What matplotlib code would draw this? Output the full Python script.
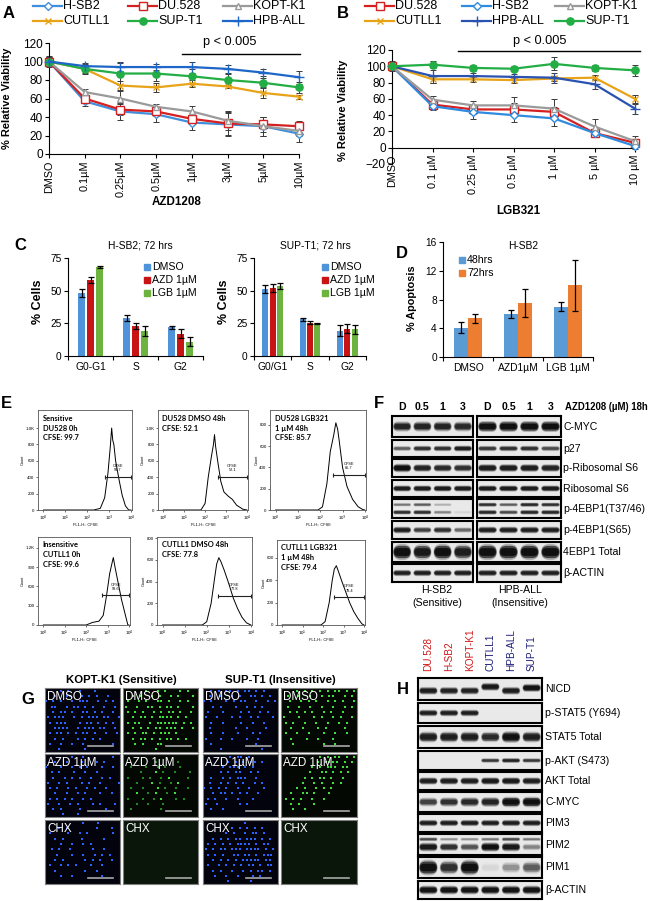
import numpy as np
import matplotlib
matplotlib.use('Agg')
import matplotlib.pyplot as plt
from matplotlib.patches import FancyBboxPatch
from matplotlib.ticker import NullLocator

plt.rcParams['font.family'] = ['Liberation Sans', 'DejaVu Sans']
plt.rcParams['axes.linewidth'] = 0.8

W, H = 650, 901

# ── A: AZD1208 viability (% of DMSO) ──────────────────────────────
A_DOSES = ['DMSO', '0.1µM', '0.25µM', '0.5µM', '1µM', '3µM', '5µM', '10µM']
A_HSB2 = [100, 57, 46, 43, 34, 32, 30, 22]
A_HSB2_ERR = [6, 5, 9, 8, 8, 12, 10, 9]
A_DU528 = [100, 60, 48, 46, 38, 33, 32, 30]
A_DU528_ERR = [5, 4, 6, 5, 6, 12, 8, 6]
A_KOPTK1 = [100, 67, 60, 51, 46, 36, 30, 25]
A_KOPTK1_ERR = [5, 3, 8, 3, 6, 10, 10, 6]
A_CUTLL1 = [100, 92, 74, 72, 76, 73, 66, 62]
A_CUTLL1_ERR = [4, 4, 5, 5, 4, 2, 5, 2]
A_SUPT1 = [100, 92, 87, 87, 84, 80, 77, 72]
A_SUPT1_ERR = [5, 5, 12, 8, 8, 7, 5, 6]
A_HPBALL = [100, 95, 94, 94, 94, 92, 88, 83]
A_HPBALL_ERR = [4, 3, 4, 3, 6, 4, 4, 7]

# ── B: LGB321 viability ───────────────────────────────────────────
B_DOSES = ['DMSO', '0.1 µM', '0.25 µM', '0.5 µM', '1 µM', '5 µM', '10 µM']
B_DU528 = [100, 53, 47, 47, 44, 18, 6]
B_DU528_ERR = [5, 4, 5, 8, 6, 5, 4]
B_HSB2 = [100, 51, 44, 40, 36, 18, 2]
B_HSB2_ERR = [4, 5, 9, 9, 9, 4, 3]
B_KOPTK1 = [100, 59, 52, 52, 48, 26, 8]
B_KOPTK1_ERR = [6, 4, 5, 10, 12, 9, 6]
B_CUTLL1 = [100, 84, 84, 83, 85, 86, 60]
B_CUTLL1_ERR = [3, 4, 3, 3, 3, 3, 5]
B_HPBALL = [100, 88, 88, 87, 86, 78, 48]
B_HPBALL_ERR = [3, 8, 4, 4, 6, 6, 6]
B_SUPT1 = [100, 102, 98, 97, 103, 98, 95]
B_SUPT1_ERR = [4, 4, 4, 3, 8, 4, 7]

# ── C: cell cycle ─────────────────────────────────────────────────
C_TREAT = ['DMSO', 'AZD 1µM', 'LGB 1µM']
C_HSB2_PHASES = ['G0-G1', 'S', 'G2']
C_HSB2 = [[48, 29, 22], [58, 23, 17], [68, 19, 11]]
C_HSB2_ERR = [[3, 2.5, 1], [2.5, 2.5, 3.5], [1, 4, 3.5]]
C_SUPT1_PHASES = ['G0/G1', 'S', 'G2']
C_SUPT1 = [[51, 28, 19.5], [52, 25.5, 21], [53.5, 25, 20.5]]
C_SUPT1_ERR = [[3, 1, 4], [3, 1, 3.5], [2.5, 0.5, 3.5]]

# ── D: apoptosis ──────────────────────────────────────────────────
D_TREAT = ['DMSO', 'AZD1µM', 'LGB 1µM']
D_TIMES = ['48hrs', '72hrs']
D_48 = [4.1, 6.0, 7.0]
D_48_ERR = [0.8, 0.6, 0.65]
D_72 = [5.4, 7.5, 10.0]
D_72_ERR = [0.65, 1.95, 3.55]

# ── E: CFSE histograms (log10 FL1-H, count) ───────────────────────
E1_LOG = [0, 2.3, 2.6, 2.8, 2.95, 3.05, 3.12, 3.17, 3.22, 3.3, 3.45, 3.6, 3.75, 3.9, 4]
E1_CNT = [0, 0, 20, 150, 450, 750, 1000, 850, 800, 600, 380, 180, 50, 0, 0]
E2_LOG = [0, 1.8, 2.0, 2.15, 2.3, 2.4, 2.45, 2.5, 2.6, 2.75, 2.9, 3.1, 3.3, 3.5, 3.8, 4]
E2_CNT = [0, 0, 80, 400, 650, 800, 920, 780, 600, 350, 220, 170, 130, 60, 10, 0]
E3_LOG = [0, 1.9, 2.1, 2.3, 2.45, 2.6, 2.7, 2.78, 2.85, 3.0, 3.2, 3.45, 3.7, 3.9, 4]
E3_CNT = [0, 0, 30, 250, 550, 700, 820, 760, 650, 400, 220, 100, 30, 5, 0]
E4_LOG = [0, 2.0, 2.3, 2.6, 2.8, 2.95, 3.1, 3.2, 3.27, 3.35, 3.5, 3.65, 3.8, 3.95, 4]
E4_CNT = [0, 0, 40, 60, 150, 450, 800, 950, 1050, 900, 650, 400, 200, 0, 0]
E5_LOG = [0, 1.8, 2.0, 2.2, 2.35, 2.45, 2.55, 2.65, 2.8, 3.0, 3.2, 3.4, 3.6, 3.8, 4]
E5_CNT = [0, 0, 30, 200, 420, 560, 620, 580, 500, 380, 250, 150, 70, 20, 0]
E6_LOG = [0, 1.9, 2.1, 2.3, 2.45, 2.55, 2.65, 2.75, 2.9, 3.1, 3.3, 3.5, 3.7, 3.9, 4]
E6_CNT = [0, 0, 30, 200, 400, 500, 530, 480, 400, 300, 200, 120, 60, 10, 0]
E_CFSE = ['99.7', '52.1', '85.7', '99.6', '77.8', '79.4']
E_NOTES = ['Sensitive\nDU528 0h\nCFSE: 99.7', 'DU528 DMSO 48h\nCFSE: 52.1',
           'DU528 LGB321\n1 µM 48h\nCFSE: 85.7', 'Insensitive\nCUTLL1 0h\nCFSE: 99.6',
           'CUTLL1 DMSO 48h\nCFSE: 77.8', 'CUTLL1 LGB321\n1 µM 48h\nCFSE: 79.4']

# ── F: western blot, lanes D/0.5/1/3 for H-SB2 then HPB-ALL ───────
F_LANES = ['D', '0.5', '1', '3']
F_CMYC = [0.8, 0.8, 0.8, 0.75, 1.0, 1.0, 1.0, 1.0]
F_P27 = [0.45, 0.7, 0.7, 0.85, 0.65, 0.7, 0.7, 0.55]
F_PRS6 = [1.0, 0.8, 0.75, 0.7, 0.85, 0.85, 0.85, 0.8]
F_RS6 = [0.85, 0.85, 0.85, 0.85, 0.85, 0.85, 0.85, 0.85]
F_P4EBP1_T_UP = [0.35, 0.45, 0.15, 0.0, 0.7, 0.45, 0.75, 0.7]
F_P4EBP1_T_LO = [0.7, 0.7, 0.3, 0.05, 0.75, 0.55, 0.75, 0.75]
F_P4EBP1_S65 = [0.85, 0.6, 0.7, 0.4, 0.85, 0.85, 0.85, 0.85]
F_4EBP1 = [1.0, 0.9, 1.0, 0.85, 1.0, 1.0, 1.0, 1.0]
F_ACTIN = [0.85, 0.85, 0.85, 0.85, 0.85, 0.85, 0.85, 0.85]

# ── H: western blot across six lines ──────────────────────────────
H_LINES = ['DU.528', 'H-SB2', 'KOPT-K1', 'CUTLL1', 'HPB-ALL', 'SUP-T1']
H_SENSITIVE = [True, True, True, False, False, False]
H_NICD = [0.85, 0.8, 0.8, 0.9, 0.85, 0.95]
H_NICD_Y = [0.42, 0.42, 0.42, 0.6, 0.42, 0.55]
H_PSTAT5 = [0.85, 0.85, 0.85, 0, 0, 0]
H_STAT5 = [0.85, 0.85, 0.85, 0.75, 1.0, 0.85]
H_PAKT = [0, 0, 0, 0.65, 0.8, 0.65]
H_AKT = [0.85, 0.85, 0.85, 0.9, 0.9, 0.85]
H_CMYC = [0.6, 0.7, 0.75, 0.8, 1.0, 1.0]
H_PIM3 = [0.85, 0.85, 0.85, 0.85, 0.85, 0.85]
H_PIM2_UP = [0.55, 0.25, 0.25, 0.35, 0.55, 0.35]
H_PIM2_LO = [0.9, 0.7, 0.5, 1.0, 0.9, 0.3]
H_PIM1 = [1.0, 0.7, 1.0, 0.04, 0.25, 0.45]
H_ACTIN = [0.95, 0.95, 0.95, 0.95, 0.95, 0.95]

# ── G: cell maps ('#' bright cell, '+' dim cell) ──────────────────
KOPT_DMSO_B = ["....#.#..#...#......", "..#..##..#.#.#..#...", "#.#.#..#.###..#.#.#.",
               ".##..#.##.#.#..#..#.", "..#.##.#..##.#.#..#.", "#.###..#.#.###.##..#",
               ".#.###...#.##.#.#.#.", "..####..#.###.##..#.", ".#.##.#.#.##.#..#..#",
               "..#.#...#.#.#.#.....", ".#..#..#..#.......#.", "...#......#........."]
KOPT_DMSO_G = ["......#..#.#...#.#..", "..#.#..#.#..#.#...#.", ".#..#.#..##.#..#.#..",
               "#..#..##.#.##.#...#.", ".#.#.#..#.#.##.#..#.", "..#.##.#.####.#.#...",
               ".#.##..#.######.#.#.", "..#.#.#.##.###.#..#.", ".#.#.##.#.###.#.....",
               "..#.##.#.#.##.#.#...", "...#.#...##.........", "........#..........."]
KOPT_AZD_B = [".......#..#.......#.", "..#..#...#...#.#....", "#...#..#.#.#...#..#.",
              ".#.#...#..#..#......", "..#..#.#.#..#..#.#..", "#..#.#...#.#..#....#",
              ".#.#..#.#..#.#..#...", "..#..#..#.#...#..#..", ".#.#.#.#..#.#.......",
              "#..#..#.#...#.#...#.", "..#.#....#......#...", "....#...#..........."]
KOPT_AZD_G = ["....................", "........+.....+.....", "..+...+..+.+...+....",
              "....+...#.+..+...+..", ".+...+.+..+.#....+..", "...+...#.+..+.#.....",
              "..+..+...#.+..+..+..", "...#..+.#..+.#......", ".+...+..+.#...+.+...",
              "...+..+...+.........", "..+.......+.........", "...................."]
KOPT_CHX_B = ["..........#...#.....", "...#.#.......#...#..", ".#....#..#.#......#.",
              "..#.#....#.....#....", "....#..#..#.#.......", ".#.#..#.....#..#....",
              "...#...#..#..#.#.#..", "..#.#.....#.#.#..#..", ".#..#.#.#...#..#....",
              "..#.......#..#......", "....#..#.......#....", "...................."]
SUP_DMSO_B = ["..#.#.##.#.##.#.#...", ".#..#..#.#..##.#.#..", "#.#...#.#.##..#..#.#",
              "..#.#...#..#.#.#....", ".#...#....#.#..#.#..", "#..#...#.#..#.#...#.",
              "..#..#....#..#..#...", ".#......#..#....#...", "..#..#...#...#.#....",
              "#...#..#...#..#.....", "..#...........#.....", "....#..........#...."]
SUP_DMSO_G = ["....#.#.#.#.#.##.#.#", ".#..#..#..#.##..#.#.", "..#..#.#.#..#.#.#..#",
              ".#..#..#..#..#..#.#.", "..#.#.#.#..#.#..#...", "#...#...#.#..#.#..#.",
              ".#.#..#..#..#..#.#..", "..#..#...#.#....#...", ".#..#..#...#..#..#..",
              "..#...#..#...#......", "...#.......#..#.....", "...................."]
SUP_AZD_B = [".......#.##.#.......", "......#.#.#.##.#....", ".....#.###.#.#......",
             "....#.#.##..#.#.....", "..#..#.#.###..#.....", ".#..#.#.#.#..#.#....",
             "#.#.#.#..#..#...#...", "..#.##.#.#.#..#.....", ".#.#..#..#...#......",
             "#..#.....#.#........", "..#..#..............", "...................."]
SUP_AZD_G = ["..........#.#.##.#.#", ".........#.####.#.#.", "........#.#.###.##..",
             ".......#..##.#.#.#..", "......#.#.##.#..#...", ".....#..#.#..#.#....",
             "....#.#..#.#.#......", "..#..##.#...#.......", ".#.#.#..#..#........",
             "..#.#...#...........", "...#..#.............", "...................."]
SUP_CHX_B = ["...........#........", ".......#.#.#.#.#....", "......#.#..#.##.#...",
             "..#.#.#.##.###.#.#..", ".#.#.#.#.####.#.##..", "#.#.##.###.####.#.#.",
             ".#.#.#..##.##.#.###.", "..#.#.#.#.#####.##..", ".#..#.#.#.#.##.#.##.",
             "..#.#..#..#.#.##.#..", "...#..#..#...#.#....", "......#.....#......."]
NO_CELLS = ["." * 20] * 12

MARKERS = {'H-SB2': ('D', 3.6, False), 'DU.528': ('s', 5.2, False), 'KOPT-K1': ('^', 5, False),
           'CUTLL1': ('x', 5, True), 'SUP-T1': ('o', 5.2, True), 'HPB-ALL': ('+', 6.5, True)}
COLORS = {'H-SB2': '#3F8FDC', 'DU.528': '#D42020', 'KOPT-K1': '#9A9A9A',
          'CUTLL1': '#E8A317', 'SUP-T1': '#22AD45', 'HPB-ALL': '#1E66C8'}
C_COLORS = ['#4F94DA', '#C81414', '#6DB33F']
D_COLORS = ['#5B9BD5', '#ED7D31']

fig = plt.figure(figsize=(6.5, 9.01), dpi=100)
canvas = fig.add_axes([0, 0, 1, 1], zorder=20)
canvas.set_xlim(0, W)
canvas.set_ylim(H, 0)
canvas.axis('off')
canvas.patch.set_alpha(0)


def px_axes(x0, y0, x1, y1):
    return fig.add_axes([x0 / W, 1 - y1 / H, (x1 - x0) / W, (y1 - y0) / H])


def label(x, y, s, **kw):
    kw.setdefault('ha', 'center')
    kw.setdefault('va', 'center')
    canvas.text(x, y, s, **kw)


def letter(x, y, s):
    label(x, y, s, fontsize=12, fontweight='bold')


# ════════════════════════════════════════════════════════════════
# A / B  viability curves
# ════════════════════════════════════════════════════════════════

def draw_series(ax, name, y, err, color):
    x = np.arange(len(y))
    mk, ms, filled = MARKERS[name]
    ax.errorbar(x, y, yerr=err, fmt='none', ecolor='#3a3a3a', elinewidth=0.7,
                capsize=2, capthick=0.7, clip_on=False, zorder=2)
    ax.plot(x, y, color=color, lw=1.6, marker=mk, ms=ms, mfc=color if filled else 'white',
            mec=color, mew=1, clip_on=False, zorder=3)


def legend_entry(x0, y, name, color):
    mk, ms, filled = MARKERS[name]
    canvas.plot([x0, x0 + 29], [y, y], color=color, lw=1.6)
    canvas.plot([x0 + 14.5], [y], marker=mk, ms=ms, color=color,
                mfc=color if filled else 'white', mec=color, mew=1)
    canvas.text(x0 + 30, y, name, fontsize=9, va='center')


def viability_axes(ax, doses, ymin):
    if ymin < 0:
        ax.spines['bottom'].set_position(('data', 0))
    ax.set_xlim(0, len(doses) - 1)
    ax.set_ylim(ymin, 120)
    ax.set_yticks(range(ymin, 121, 20))
    ax.set_xticks(range(len(doses)))
    ax.set_xticklabels(doses, rotation=90, fontsize=7.8)
    ax.tick_params(axis='y', labelsize=8.5, length=3, pad=1.5)
    ax.tick_params(axis='x', length=3, pad=2)
    for s in ['top', 'right']:
        ax.spines[s].set_visible(False)
    ax.patch.set_alpha(0)


axA = px_axes(49, 43, 299, 154)
viability_axes(axA, A_DOSES, 0)
for name, y, e in [('H-SB2', A_HSB2, A_HSB2_ERR), ('DU.528', A_DU528, A_DU528_ERR),
                   ('KOPT-K1', A_KOPTK1, A_KOPTK1_ERR), ('CUTLL1', A_CUTLL1, A_CUTLL1_ERR),
                   ('SUP-T1', A_SUPT1, A_SUPT1_ERR), ('HPB-ALL', A_HPBALL, A_HPBALL_ERR)]:
    draw_series(axA, name, y, e, COLORS[name])
axA.plot([3.72, 7.03], [108, 108], color='k', lw=1, clip_on=False)
axA.text(5.07, 121, 'p < 0.005', ha='center', va='center', fontsize=9.2)

for col, (n1, n2) in zip([33, 128, 223], [('H-SB2', 'CUTLL1'), ('DU.528', 'SUP-T1'),
                                          ('KOPT-K1', 'HPB-ALL')]):
    legend_entry(col, 6, n1, COLORS[n1])
    legend_entry(col, 21, n2, COLORS[n2])
letter(9, 13, 'A')
label(7, 98, '% Relative Viability', rotation=90, fontsize=8, fontweight='bold')
label(177, 202, 'AZD1208', fontsize=8.4, fontweight='bold')

axB = px_axes(392, 50, 635, 164)
viability_axes(axB, B_DOSES, -20)
B_COLORS = dict(COLORS, **{'HPB-ALL': '#2A52B0', 'H-SB2': '#2F8BE0'})
for name, y, e in [('DU.528', B_DU528, B_DU528_ERR), ('H-SB2', B_HSB2, B_HSB2_ERR),
                   ('KOPT-K1', B_KOPTK1, B_KOPTK1_ERR), ('CUTLL1', B_CUTLL1, B_CUTLL1_ERR),
                   ('HPB-ALL', B_HPBALL, B_HPBALL_ERR), ('SUP-T1', B_SUPT1, B_SUPT1_ERR)]:
    draw_series(axB, name, y, e, B_COLORS[name])
axB.plot([1.63, 6.12], [119, 119], color='k', lw=1, clip_on=False)
axB.text(3.65, 131, 'p < 0.005', ha='center', va='center', fontsize=9.2)
for col, (n1, n2) in zip([365, 462, 555], [('DU.528', 'CUTLL1'), ('H-SB2', 'HPB-ALL'),
                                           ('KOPT-K1', 'SUP-T1')]):
    legend_entry(col, 6, n1, B_COLORS[n1])
    legend_entry(col, 21, n2, B_COLORS[n2])
letter(343, 13, 'B')
label(343, 110, '% Relative Viability', rotation=90, fontsize=8, fontweight='bold')
label(518, 211, 'LGB321', fontsize=8.4, fontweight='bold')


# ════════════════════════════════════════════════════════════════
# C / D  bar charts
# ════════════════════════════════════════════════════════════════

def excel_bar_axes(ax, cats, ymax, yticks):
    n = len(cats)
    ax.set_xlim(0, n)
    ax.set_ylim(0, ymax)
    ax.set_yticks(yticks)
    ax.set_xticks(range(n + 1))
    ax.set_xticklabels([])
    ax.set_xticks(np.arange(n) + 0.5, minor=True)
    ax.set_xticklabels(cats, minor=True, fontsize=7.4)
    ax.tick_params(axis='x', which='major', length=3)
    ax.tick_params(axis='x', which='minor', length=0, pad=4)
    ax.tick_params(axis='y', labelsize=7.3, length=3, pad=1.5)
    for s in ['top', 'right']:
        ax.spines[s].set_visible(False)
    ax.patch.set_alpha(0)


def square_legend(x, ys, names, colors):
    for y, n, c in zip(ys, names, colors):
        canvas.plot([x], [y], marker='s', ms=4.2, color=c)
        canvas.text(x + 5, y, n, fontsize=7.6, va='center')


err_style = dict(ecolor='k', elinewidth=0.9, capsize=2, capthick=0.9)

for rect, phases, vals, errs, title, tx, lx in [
        ((68, 258, 203, 356), C_HSB2_PHASES, C_HSB2, C_HSB2_ERR, 'H-SB2; 72 hrs', 140, 147),
        ((254, 258, 366, 356), C_SUPT1_PHASES, C_SUPT1, C_SUPT1_ERR, 'SUP-T1; 72 hrs', 315, 325)]:
    ax = px_axes(*rect)
    excel_bar_axes(ax, phases, 75, [0, 25, 50, 75])
    x = np.arange(len(phases)) + 0.5
    for k, (v, e, c) in enumerate(zip(vals, errs, C_COLORS)):
        ax.bar(x + (k - 1) * 0.2, v, 0.16, color=c, yerr=e, error_kw=err_style, zorder=2)
    label(tx, 246, title, fontsize=7.4)
    square_legend(lx, [267, 280, 293], C_TREAT, C_COLORS)
    label(rect[0] - 30, 302, '% Cells', rotation=90, fontsize=9, fontweight='bold')
letter(20, 246, 'C')

axD = px_axes(443, 242, 593, 357)
excel_bar_axes(axD, D_TREAT, 16, [0, 4, 8, 12, 16])
xd = np.arange(len(D_TREAT)) + 0.5
axD.bar(xd - 0.14, D_48, 0.28, color=D_COLORS[0], yerr=D_48_ERR, error_kw=err_style, zorder=2)
axD.bar(xd + 0.14, D_72, 0.28, color=D_COLORS[1], yerr=D_72_ERR, error_kw=err_style, zorder=2)
label(523, 246, 'H-SB2', fontsize=7.4)
square_legend(462, [260, 273], D_TIMES, D_COLORS)
label(412, 298, '% Apoptosis', rotation=90, fontsize=7.8, fontweight='bold')
letter(402, 254, 'D')


# ════════════════════════════════════════════════════════════════
# E  CFSE histograms
# ════════════════════════════════════════════════════════════════

E_RECTS = [(38, 410, 132, 510), (158, 410, 248, 510), (270, 410, 366, 510),
           (38, 537, 130, 625), (157, 537, 252, 625), (277, 540, 365, 625)]
E_DATA = [(E1_LOG, E1_CNT), (E2_LOG, E2_CNT), (E3_LOG, E3_CNT),
          (E4_LOG, E4_CNT), (E5_LOG, E5_CNT), (E6_LOG, E6_CNT)]
E_YLIM = [1220, 1220, 940, 1370, 810, 760]
E_YTICKS = [([0, 200, 400, 600, 800, 1000], ['0', '200', '400', '600', '800', '1.0K'])] * 2 + \
           [([0, 200, 400, 600, 800], ['0', '200', '400', '600', '800'])] + \
           [([0, 300, 600, 900, 1200], ['0', '300', '600', '900', '1.2K'])] + \
           [([0, 200, 400, 600, 800], ['0', '200', '400', '600', '800'])] + \
           [([0, 200, 400, 600], ['0', '200', '400', '600'])]
E_GATE = [(2.8, 400), (2.6, 400), (2.55, 330), (2.75, 460), (2.5, 270), (2.55, 250)]

for i, rect in enumerate(E_RECTS):
    ax = px_axes(*rect)
    lx, cnt = E_DATA[i]
    ax.plot(10 ** np.array(lx), cnt, color='k', lw=0.7)
    ax.set_xscale('log')
    ax.set_xlim(10 ** -0.25, 10 ** 4.05)
    ax.set_ylim(0, E_YLIM[i])
    ax.set_xticks([1, 10, 100, 1000, 10000])
    ax.set_xticklabels(['10$^0$', '10$^1$', '10$^2$', '10$^3$', '10$^4$'])
    ax.xaxis.set_minor_locator(NullLocator())
    ax.set_yticks(E_YTICKS[i][0])
    ax.set_yticklabels(E_YTICKS[i][1])
    ax.tick_params(labelsize=3.2, length=1.5, width=0.4, pad=1)
    for s in ax.spines.values():
        s.set_linewidth(0.6)
        s.set_color('#555555')
    ax.set_xlabel('FL1-H:: CFSE', fontsize=2.8, labelpad=0.5)
    ax.set_ylabel('Count', fontsize=2.8, labelpad=0.5)
    g0, gy = E_GATE[i]
    ax.plot([10 ** g0, 10 ** 4], [gy, gy], color='#222222', lw=0.8, marker='|', ms=3, mew=0.8)
    ax.text(10 ** ((g0 + 4) / 2), gy + E_YLIM[i] * 0.05, 'CFSE\n' + E_CFSE[i], fontsize=2.8,
            ha='center', va='bottom', linespacing=1.1)
    ax.text(0.05, 0.95, E_NOTES[i], transform=ax.transAxes, fontsize=5.4, fontweight='bold',
            family=['Lato', 'DejaVu Sans'], va='top', ha='left', linespacing=1.45)
letter(6, 404, 'E')


# ════════════════════════════════════════════════════════════════
# F / H  western blots
# ════════════════════════════════════════════════════════════════

def draw_bands(ax, inten, ypos, height, width=0.9):
    for lane, a in enumerate(inten, 1):
        if a <= 0.02:
            continue
        y = ypos[lane - 1] if isinstance(ypos, list) else ypos
        h = height * (0.6 + 0.4 * a)
        for sw, sh, al in [(1.0, 1.25, 0.25), (0.95, 0.95, 0.65), (0.88, 0.6, 0.85)]:
            w, hh = width * sw, h * sh
            r = min(w, hh) / 2
            ax.add_patch(FancyBboxPatch((lane - w / 2, y - hh / 2), w, hh,
                                        boxstyle='round,pad=0,rounding_size=%.3f' % r,
                                        lw=0, color='#080808', alpha=min(al * a, 1)))


def blot_box(x0, y0, x1, y1, n, face='#e9e9e9'):
    ax = px_axes(x0, y0, x1, y1)
    ax.set_xlim(0.5, n + 0.5)
    ax.set_ylim(0, 1)
    ax.set_xticks([])
    ax.set_yticks([])
    ax.set_facecolor(face)
    for s in ax.spines.values():
        s.set_linewidth(1.5)
    return ax


F_ROWS = [('C-MYC', (416, 437), [(F_CMYC, 0.5, 0.42)]),
          ('p27', (440, 457), [(F_P27, 0.5, 0.3)]),
          ('p-Ribosomal S6', (459, 477), [(F_PRS6, 0.5, 0.38)]),
          ('Ribosomal S6', (480, 497), [(F_RS6, 0.5, 0.32)]),
          ('p-4EBP1(T37/46)', (499, 518), [(F_P4EBP1_T_UP, 0.7, 0.2), (F_P4EBP1_T_LO, 0.3, 0.22)]),
          ('p-4EBP1(S65)', (521, 539), [(F_P4EBP1_S65, 0.5, 0.32)]),
          ('4EBP1 Total', (542, 562), [(F_4EBP1, 0.5, 0.65)]),
          ('β-ACTIN', (564, 582), [(F_ACTIN, 0.5, 0.3)])]

for r, (name, (y0, y1), bands) in enumerate(F_ROWS):
    for side, (x0, x1) in enumerate([(392, 473), (477, 561)]):
        ax = blot_box(x0, y0, x1, y1, 4)
        for inten, yp, hh in bands:
            draw_bands(ax, inten[side * 4:side * 4 + 4], yp, hh)
        if r == 0:
            for k, t in enumerate(F_LANES, 1):
                ax.text(k, 1.45, t, ha='center', va='center', fontsize=7.6,
                        fontweight='bold', clip_on=False)
    label(563, (y0 + y1) / 2, name, ha='left', fontsize=7.6)
label(565, 407, 'AZD1208 (µM) 18h', ha='left', fontsize=6.9, fontweight='bold')
label(437, 590, 'H-SB2', fontsize=7.6)
label(437, 603, '(Sensitive)', fontsize=7.6)
label(520, 590, 'HPB-ALL', fontsize=7.6)
label(520, 603, '(Insensitive)', fontsize=7.6)
letter(379, 404, 'F')

H_ROWS = [('NICD', (678, 700), [(H_NICD, H_NICD_Y, 0.3)]),
          ('p-STAT5 (Y694)', (703, 723), [(H_PSTAT5, 0.5, 0.28)]),
          ('STAT5 Total', (726, 748), [(H_STAT5, 0.5, 0.42)]),
          ('p-AKT (S473)', (751, 770), [(H_PAKT, 0.5, 0.22)]),
          ('AKT Total', (772, 790), [(H_AKT, 0.5, 0.35)]),
          ('C-MYC', (792, 812), [(H_CMYC, 0.5, 0.42)]),
          ('PIM3', (814, 832), [(H_PIM3, 0.5, 0.3)]),
          ('PIM2', (834, 855), [(H_PIM2_UP, 0.75, 0.18), (H_PIM2_LO, 0.38, 0.35)]),
          ('PIM1', (857, 878), [(H_PIM1, 0.5, 0.6)]),
          ('β-ACTIN', (881, 899), [(H_ACTIN, 0.5, 0.4)])]

for r, (name, (y0, y1), bands) in enumerate(H_ROWS):
    ax = blot_box(418, y0, 542, y1, 6)
    for inten, yp, hh in bands:
        draw_bands(ax, inten, yp, hh)
    if r == 0:
        for k, (t, sens) in enumerate(zip(H_LINES, H_SENSITIVE), 1):
            ax.text(k, 1.3, t, ha='center', va='bottom', rotation=90, fontsize=7.2,
                    color='#D01818' if sens else '#1C1C78', clip_on=False)
    label(545, (y0 + y1) / 2, name, ha='left', fontsize=7.6)
letter(403, 689, 'H')


# ════════════════════════════════════════════════════════════════
# G  live-cell imaging fields
# ════════════════════════════════════════════════════════════════

def cell_field(ax, rows, color, dim_color, tag):
    bx, by, dx, dy = [], [], [], []
    for r, line in enumerate(rows):
        shift = 0.5 * (r % 2)
        for c, ch in enumerate(line):
            if ch == '#':
                bx.append(c + 0.25 + shift); by.append(r + 0.5)
            elif ch == '+':
                dx.append(c + 0.25 + shift); dy.append(r + 0.5)
    ax.scatter(bx, by, s=3.6, marker='s', color=color, linewidths=0)
    ax.scatter(dx, dy, s=2.8, marker='s', color=dim_color, linewidths=0)
    ax.set_xlim(0, 20)
    ax.set_ylim(12, 0)
    ax.set_xticks([])
    ax.set_yticks([])
    for s in ax.spines.values():
        s.set_color('#808080')
        s.set_linewidth(0.8)
    ax.plot([0.57, 0.9], [0.1, 0.1], transform=ax.transAxes, color='#a8a8a8', lw=1.2)
    ax.text(0.03, 0.95, tag, transform=ax.transAxes, color='white', fontsize=8.4,
            va='top', ha='left')


G_COLS = [(45, 120), (123, 198), (203, 278), (281, 357)]
G_ROWS = [(688, 752), (754, 817), (820, 884)]
G_TAGS = ['DMSO', 'AZD 1µM', 'CHX']
G_MAPS = [[KOPT_DMSO_B, KOPT_DMSO_G, SUP_DMSO_B, SUP_DMSO_G],
          [KOPT_AZD_B, KOPT_AZD_G, SUP_AZD_B, SUP_AZD_G],
          [KOPT_CHX_B, NO_CELLS, SUP_CHX_B, NO_CELLS]]
for r, (y0, y1) in enumerate(G_ROWS):
    for c, (x0, x1) in enumerate(G_COLS):
        ax = px_axes(x0, y0, x1, y1)
        if c % 2 == 0:
            ax.set_facecolor('#03030e')
            cell_field(ax, G_MAPS[r][c], '#2a62ff', '#1a3cb0', G_TAGS[r])
        else:
            ax.set_facecolor('#0a160a' if r == 2 else '#030803')
            cell_field(ax, G_MAPS[r][c], '#3ee03e', '#1f8a22', G_TAGS[r])
label(121, 680, 'KOPT-K1 (Sensitive)', fontsize=8.2, fontweight='bold')
label(280, 680, 'SUP-T1 (Insensitive)', fontsize=8.2, fontweight='bold')
letter(28, 699, 'G')

fig.savefig('out.png', dpi=100)
